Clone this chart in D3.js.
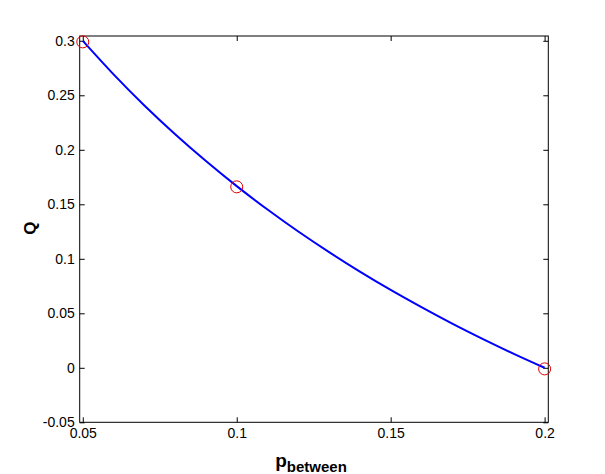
<!DOCTYPE html>
<html lang="en">
  <head>
    <meta charset="utf-8">
    <title>Q vs p_between</title>
    <script type="text/javascript" src="https://cdn.jsdelivr.net/npm/d3@7"></script>
    <style type="text/css">
      body { margin: 0; background: #fff; }
      svg { display: block; font-family: "Liberation Sans", Arial, Helvetica, sans-serif; }
    </style>
  </head>
  <body>
    <script type="text/javascript">

      //Width and height
      var w = 605;
      var h = 474;
      var margin = { top: 36, right: 56.7, bottom: 51.7, left: 79.7 };

      //Curve
      var pBetween = [0.05, 0.06, 0.07, 0.08, 0.09, 0.10, 0.11, 0.12,
                      0.13, 0.14, 0.15, 0.16, 0.17, 0.18, 0.19, 0.20];
      var qValues  = [0.3000, 0.2692, 0.2407, 0.2143, 0.1897, 0.1667, 0.1452, 0.1250,
                      0.1061, 0.0882, 0.0714, 0.0556, 0.0405, 0.0263, 0.0128, 0.0000];

      //Circle markers
      var markerP = [0.05, 0.1, 0.2];
      var markerQ = [0.299, 0.166, -0.001];

      //Tick labels
      var xTicks = [0.05, 0.1, 0.15, 0.2];
      var yTicks = [-0.05, 0, 0.05, 0.1, 0.15, 0.2, 0.25, 0.3];

      var iw = w - margin.left - margin.right;
      var ih = h - margin.top - margin.bottom;

      var x = d3.scaleLinear().domain([0.049, 0.2012]).range([0, iw]);
      var y = d3.scaleLinear().domain([-0.05, 0.3044]).range([ih, 0]);

      var fmt = function(d) { return String(+d.toFixed(2)); };

      var svg = d3.select("body")
                  .append("svg")
                  .attr("width", w)
                  .attr("height", h);

      var g = svg.append("g")
                 .attr("transform", "translate(" + margin.left + "," + margin.top + ")");

      //Axes, ticks pointing inside like MATLAB
      g.append("g")
       .attr("transform", "translate(0," + ih + ")")
       .call(d3.axisBottom(x).tickValues(xTicks).tickFormat(fmt)
               .tickSizeInner(-5).tickSizeOuter(0).tickPadding(6));
      g.append("g")
       .call(d3.axisTop(x).tickValues(xTicks).tickFormat("")
               .tickSizeInner(-5).tickSizeOuter(0));
      g.append("g")
       .call(d3.axisLeft(y).tickValues(yTicks).tickFormat(fmt)
               .tickSizeInner(-5).tickSizeOuter(0).tickPadding(5));
      g.append("g")
       .attr("transform", "translate(" + iw + ",0)")
       .call(d3.axisRight(y).tickValues(yTicks).tickFormat("")
               .tickSizeInner(-5).tickSizeOuter(0));

      g.selectAll(".domain").remove();
      g.selectAll(".tick line").attr("stroke", "#000");
      g.selectAll(".tick text").attr("fill", "#000").style("font-size", "14px");

      //Box
      g.append("rect")
       .attr("width", iw)
       .attr("height", ih)
       .attr("fill", "none")
       .attr("stroke", "#000")
       .attr("stroke-width", 1);

      //Blue curve
      var line = d3.line()
                   .x(function(d, i) { return x(pBetween[i]); })
                   .y(function(d) { return y(d); })
                   .curve(d3.curveNatural);

      g.append("path")
       .datum(qValues)
       .attr("d", line)
       .attr("fill", "none")
       .attr("stroke", "#0000ff")
       .attr("stroke-width", 2);

      //Red circle markers
      g.selectAll("circle.marker")
       .data(markerQ)
       .enter()
       .append("circle")
       .attr("class", "marker")
       .attr("cx", function(d, i) { return x(markerP[i]); })
       .attr("cy", function(d) { return y(d); })
       .attr("r", 6)
       .attr("fill", "none")
       .attr("stroke", "#e00000")
       .attr("stroke-width", 1);

      //Axis titles
      var xt = svg.append("text")
                  .attr("x", margin.left + iw / 2 - 3)
                  .attr("y", 467)
                  .attr("text-anchor", "middle")
                  .style("font-weight", "bold")
                  .style("font-size", "19px")
                  .attr("fill", "#000");
      xt.append("tspan").text("p");
      xt.append("tspan")
        .attr("dy", 5)
        .style("font-size", "15px")
        .text("between");

      svg.append("text")
         .attr("transform", "translate(36," + (margin.top + ih / 2 - 1) + ") rotate(-90)")
         .attr("text-anchor", "middle")
         .style("font-weight", "bold")
         .style("font-size", "17px")
         .attr("fill", "#000")
         .text("Q");

    </script>
  </body>
</html>
